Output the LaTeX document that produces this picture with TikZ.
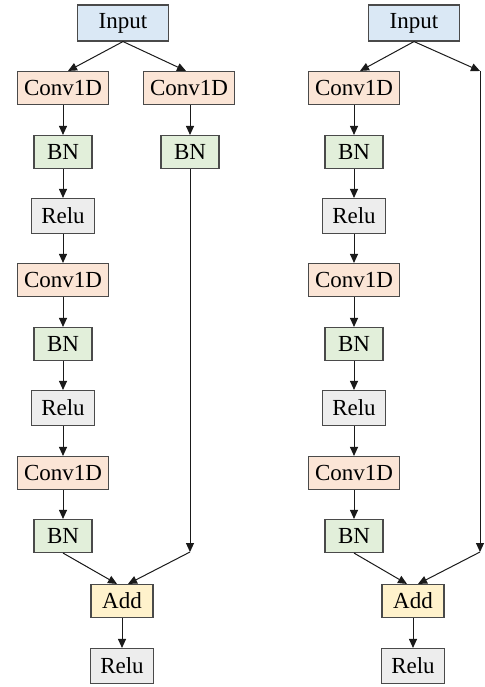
\documentclass[tikz,border=0pt]{standalone}
\usepackage{fontspec}
\setmainfont{Liberation Serif}
\usetikzlibrary{arrows.meta}

\definecolor{inputfill}{HTML}{DAE8F5}
\definecolor{convfill}{HTML}{FBE5D6}
\definecolor{bnfill}{HTML}{E2EFDA}
\definecolor{relufill}{HTML}{EDEDED}
\definecolor{addfill}{HTML}{FFF2CC}
\definecolor{boxline}{HTML}{4A4A4A}
\definecolor{wire}{HTML}{1A1A1A}

\tikzset{
  blk/.style={draw=boxline, line width=1.1pt, inner sep=0pt, minimum height=33pt,
    font=\fontsize{23}{26}\selectfont},
  inbox/.style={blk, fill=inputfill, minimum width=91pt, minimum height=36pt},
  convbox/.style={blk, fill=convfill, minimum width=91pt},
  bnbox/.style={blk, fill=bnfill, minimum width=58pt},
  relubox/.style={blk, fill=relufill, minimum width=63pt, minimum height=35pt},
  addbox/.style={blk, fill=addfill, minimum width=62pt},
  flow/.style={draw=wire, line width=1pt, -{Triangle[length=9pt,width=8pt]}}
}

\begin{document}
\begin{tikzpicture}[x=1pt,y=-1pt]
\useasboundingbox (0,0) rectangle (484,687);

% ---- block with convolutional shortcut ----
\node[inbox]   (inL) at (123,23)  {Input};
\node[convbox] (c1L) at (63,88)   {Conv1D};
\node[convbox] (cS)  at (189,88)  {Conv1D};
\node[bnbox]   (b1L) at (63,152)  {BN};
\node[bnbox]   (bS)  at (190,152) {BN};
\node[relubox] (r1L) at (63,216)  {Relu};
\node[convbox] (c2L) at (63,280)  {Conv1D};
\node[bnbox]   (b2L) at (63,344)  {BN};
\node[relubox] (r2L) at (63,408)  {Relu};
\node[convbox] (c3L) at (63,473)  {Conv1D};
\node[bnbox]   (b3L) at (63,536)  {BN};
\node[addbox]  (aL)  at (122,601) {Add};
\node[relubox] (oL)  at (122,666) {Relu};
\coordinate (kL) at (190,552);

\draw[flow] (inL.south) -- ([xshift=5pt]c1L.north);
\draw[flow] (inL.south) -- ([xshift=-3pt]cS.north);
\draw[flow] (c1L) -- (b1L);
\draw[flow] (cS.south -| bS) -- (bS);
\draw[flow] (b1L) -- (r1L);
\draw[flow] (r1L) -- (c2L);
\draw[flow] (c2L) -- (b2L);
\draw[flow] (b2L) -- (r2L);
\draw[flow] (r2L) -- (c3L);
\draw[flow] (c3L) -- (b3L);
\draw[flow] (bS.south) -- (kL);
\draw[flow] (b3L.south) -- ([xshift=-5pt]aL.north);
\draw[flow] (kL) -- ([xshift=6pt]aL.north);
\draw[flow] (aL) -- (oL);

% ---- block with identity shortcut ----
\node[inbox]   (inR) at (414,23)  {Input};
\node[convbox] (c1R) at (354,88)  {Conv1D};
\node[bnbox]   (b1R) at (354,152) {BN};
\node[relubox] (r1R) at (354,216) {Relu};
\node[convbox] (c2R) at (354,280) {Conv1D};
\node[bnbox]   (b2R) at (354,344) {BN};
\node[relubox] (r2R) at (354,408) {Relu};
\node[convbox] (c3R) at (354,473) {Conv1D};
\node[bnbox]   (b3R) at (354,536) {BN};
\node[addbox]  (aR)  at (413,601) {Add};
\node[relubox] (oR)  at (413,666) {Relu};
\coordinate (kR1) at (480,71);
\coordinate (kR2) at (480,552);

\draw[flow] (inR.south) -- ([xshift=6pt]c1R.north);
\draw[flow] (inR.south) -- (kR1);
\draw[flow] (kR1) -- (kR2);
\draw[flow] (c1R) -- (b1R);
\draw[flow] (b1R) -- (r1R);
\draw[flow] (r1R) -- (c2R);
\draw[flow] (c2R) -- (b2R);
\draw[flow] (b2R) -- (r2R);
\draw[flow] (r2R) -- (c3R);
\draw[flow] (c3R) -- (b3R);
\draw[flow] (b3R.south) -- ([xshift=-6pt]aR.north);
\draw[flow] (kR2) -- ([xshift=5pt]aR.north);
\draw[flow] (aR) -- (oR);
\end{tikzpicture}
\end{document}
